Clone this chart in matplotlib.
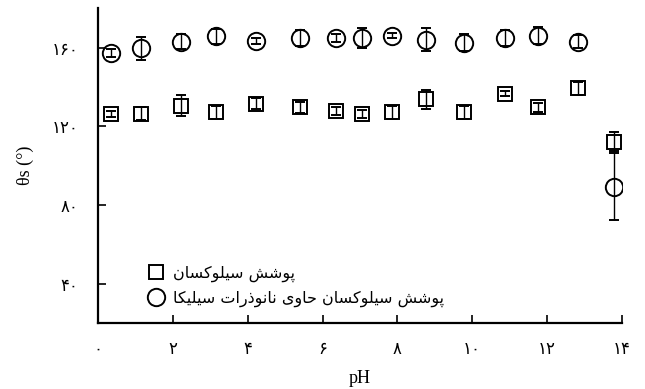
import matplotlib
matplotlib.use("Agg")
import matplotlib.pyplot as plt

# ---------------- data ----------------
ph = [0.35, 1.15, 2.22, 3.16, 4.22, 5.40, 6.36, 7.06, 7.86, 8.77, 9.79, 10.88, 11.76, 12.83, 13.80]
siloxane = [126.4, 126.4, 130.5, 127.0, 131.5, 129.5, 127.5, 126.4, 127.0, 133.6, 127.0, 136.6, 129.5, 139.2, 112.2]
siloxane_err = [1.5, 3.5, 5.5, 3.5, 3.0, 3.0, 2.0, 2.0, 3.5, 5.0, 3.5, 1.5, 2.5, 3.5, 5.0]
silica = [157.0, 159.5, 163.0, 165.6, 163.5, 165.0, 165.0, 165.0, 166.1, 164.0, 162.5, 165.0, 166.1, 163.0, 89.3]
silica_err = [2.0, 6.0, 4.0, 4.0, 1.5, 4.0, 2.0, 5.0, 1.5, 6.0, 4.5, 4.0, 4.5, 3.5, 17.0]

xticks = [0, 2, 4, 6, 8, 10, 12, 14]
yticks = [40, 80, 120, 160]
label_siloxane = "پوشش سیلوکسان"
label_silica = "پوشش سیلوکسان حاوی نانوذرات سیلیکا"
xlabel = "pH"
ylabel = "θs (°)"

# ---------------- helpers ----------------
FA_DIGITS = str.maketrans("0123456789", "۰۱۲۳۴۵۶۷۸۹")

def fa_num(v):
    return str(v).translate(FA_DIGITS)

# forms: (isolated, final, initial, medial); None for right-joining only
FORMS = {
    "ا": ("\uFE8D", "\uFE8E", None, None),
    "ت": ("\uFE95", "\uFE96", "\uFE97", "\uFE98"),
    "ح": ("\uFEA1", "\uFEA2", "\uFEA3", "\uFEA4"),
    "ذ": ("\uFEAB", "\uFEAC", None, None),
    "ر": ("\uFEAD", "\uFEAE", None, None),
    "س": ("\uFEB1", "\uFEB2", "\uFEB3", "\uFEB4"),
    "ش": ("\uFEB5", "\uFEB6", "\uFEB7", "\uFEB8"),
    "ل": ("\uFEDD", "\uFEDE", "\uFEDF", "\uFEE0"),
    "ن": ("\uFEE5", "\uFEE6", "\uFEE7", "\uFEE8"),
    "و": ("\uFEED", "\uFEEE", None, None),
    "پ": ("\uFB56", "\uFB57", "\uFB58", "\uFB59"),
    "ک": ("\uFB8E", "\uFB8F", "\uFB90", "\uFB91"),
    "ی": ("\uFBFC", "\uFBFD", "\uFBFE", "\uFBFF"),
}

def shape(text):
    out = []
    n = len(text)
    for i, ch in enumerate(text):
        if ch not in FORMS:
            out.append(ch)
            continue
        iso, fin, ini, med = FORMS[ch]
        prev = text[i - 1] if i > 0 else None
        nxt = text[i + 1] if i < n - 1 else None
        join_prev = prev in FORMS and FORMS[prev][2] is not None
        join_next = ini is not None and nxt in FORMS
        if join_prev and join_next:
            out.append(med)
        elif join_prev:
            out.append(fin)
        elif join_next:
            out.append(ini)
        else:
            out.append(iso)
    return "".join(out)[::-1]

# ---------------- figure ----------------
plt.rcParams["font.family"] = ["Liberation Serif", "DejaVu Sans"]
fig = plt.figure(figsize=(6.45, 3.89), dpi=100)
ax = fig.add_axes([0.152, 0.170, 0.812, 0.809])

eb1 = ax.errorbar(ph, siloxane, yerr=siloxane_err, fmt="s", ms=9.5, mfc="none", mec="black",
                  mew=1.4, ecolor="black", elinewidth=1.0, capsize=3.5, capthick=1.0)
eb2 = ax.errorbar(ph, silica, yerr=silica_err, fmt="o", ms=12.5, mfc="none", mec="black",
                  mew=1.4, ecolor="black", elinewidth=1.0, capsize=3.5, capthick=1.0)

ax.set_xlim(0, 14)
ax.set_ylim(20, 180)
ax.set_xticks(xticks)
ax.set_xticklabels([fa_num(v) for v in xticks], family=["DejaVu Sans"], fontsize=12)
ax.set_yticks(yticks)
ax.set_yticklabels([fa_num(v) for v in yticks], family=["DejaVu Sans"], fontsize=12)
ax.tick_params(axis="both", direction="in", length=6, width=1.2, color="black")
ax.tick_params(axis="x", pad=12)
ax.tick_params(axis="y", pad=14)

for s in ("top", "right"):
    ax.spines[s].set_visible(False)
for s in ("left", "bottom"):
    ax.spines[s].set_linewidth(1.6)

ax.set_xlabel(xlabel, fontsize=13, labelpad=9)
ax.set_ylabel(ylabel, fontsize=13, labelpad=13)

leg = ax.legend([eb1[0], eb2[0]], [shape(label_siloxane), shape(label_silica)],
                loc="lower left", bbox_to_anchor=(0.083, 0.03), frameon=False,
                prop={"family": ["DejaVu Sans"], "size": 11.5}, handletextpad=0.6,
                labelspacing=0.55, handlelength=1.0, borderaxespad=0.0)

fig.savefig("out.png", dpi=100, facecolor="white")
